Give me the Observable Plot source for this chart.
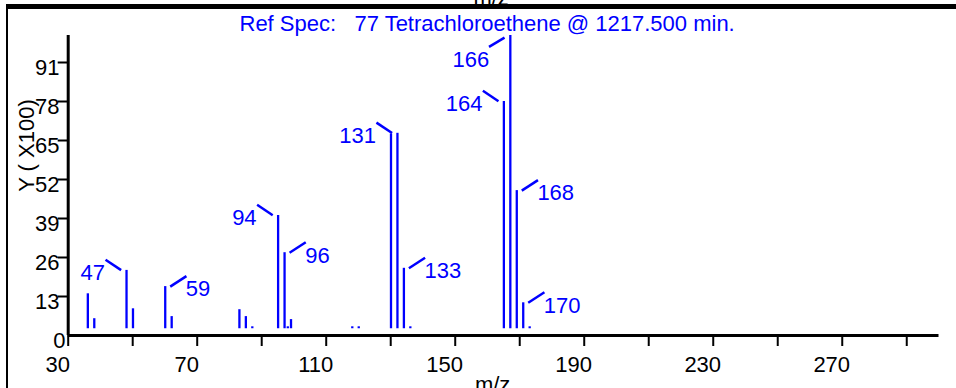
<!DOCTYPE html>
<html>
<head>
<meta charset="utf-8">
<script src="https://cdn.jsdelivr.net/npm/d3@7"></script>
<script src="https://cdn.jsdelivr.net/npm/@observablehq/plot@0.6"></script>
<style>
  html, body { margin: 0; padding: 0; background: #fff; overflow: hidden; }
  #wrap { position: relative; width: 956px; height: 388px; overflow: hidden; }
  #wrap svg { position: absolute; left: 0; top: 0; }
  .border-top { position: absolute; left: 6px; top: 4.3px; width: 950px; height: 4.6px; background: #000; }
  .border-left { position: absolute; left: 6px; top: 4px; width: 2px; height: 384px; background: #000; }
</style>
</head>
<body>
<div id="wrap"></div>
<script>
// ---- data ----
const mzValues = [35, 37, 47, 49, 59, 61, 82, 84, 86, 94, 96, 97, 98, 117, 119, 129, 131, 133, 135, 164, 166, 168, 170, 172];
const intensities = [13.9, 5.6, 21.7, 8.9, 16.3, 6.3, 8.6, 6.3, 2.9, 40.0, 27.6, 2.9, 5.3, 2.9, 2.9, 67.2, 67.4, 22.4, 2.9, 78.0, 100, 48.3, 10.9, 2.9];
const leftLabels = [47, 94, 131, 164];
const lowerLeftLabels = [166];
const rightLabels = [59, 96, 133, 168, 170];
const xTickValues = [30, 50, 70, 90, 110, 130, 150, 170, 190, 210, 230, 250, 270, 290];
const xLabelValues = [30, 70, 110, 150, 190, 230, 270];
const yTickValues = [13, 26, 39, 52, 65, 78, 91];
const yZeroTick = [0];
const titleText = "Ref Spec:   77 Tetrachloroethene @ 1217.500 min.";
const yTitle = "Y ( X100)";
const xTitle = "m/z";

// ---- layout / style ----
const W = 956, H = 388;
const ML = 67.7, MR = 17.5, MT = 35, MB = 53;
const XD = [30, 300], YD = [0, 100];
const KX = (W - ML - MR) / (XD[1] - XD[0]);
const KY = (H - MT - MB) / (YD[1] - YD[0]);
const BLUE = "#0000ff";
const BASE = 2.25;
const BAR_DX = 3.5;
const FS = 22;

const peaks = mzValues.map((m, i) => ({mz: m, value: intensities[i]}));
const valueOf = new Map(peaks.map(p => [p.mz, p.value]));
const rows = list => list.map(m => ({mz: m, value: valueOf.get(m)}));
const leftRows = rows(leftLabels);
const lowRows = rows(lowerLeftLabels);
const rightRows = rows(rightLabels);

const chart = Plot.plot({
  width: W,
  height: H,
  marginLeft: ML, marginRight: MR, marginTop: MT, marginBottom: MB,
  style: {fontFamily: "'Liberation Sans', Arial, sans-serif", fontSize: FS + "px", background: "transparent", color: "black"},
  x: {domain: XD},
  y: {domain: YD},
  marks: [
    // peaks
    Plot.ruleX(peaks, {x: "mz", y1: BASE, y2: "value", stroke: BLUE, strokeWidth: 2.3, dx: BAR_DX}),
    // leader lines
    Plot.link(leftRows, {
      x1: d => d.mz - 21 / KX, y1: d => d.value + 10.7 / KY,
      x2: d => d.mz - 5.4 / KX, y2: d => d.value + 0.3 / KY,
      stroke: BLUE, strokeWidth: 2.5, dx: BAR_DX
    }),
    Plot.link(lowRows, {
      x1: d => d.mz - 21.3 / KX, y1: d => d.value - 11.3 / KY,
      x2: d => d.mz - 5.8 / KX, y2: d => d.value - 2.2 / KY,
      stroke: BLUE, strokeWidth: 2.5, dx: BAR_DX
    }),
    Plot.link(rightRows, {
      x1: d => d.mz + 5 / KX, y1: d => d.value,
      x2: d => d.mz + 21.2 / KX, y2: d => d.value + 10.5 / KY,
      stroke: BLUE, strokeWidth: 2.5, dx: BAR_DX
    }),
    // peak labels
    Plot.text(leftRows, {x: "mz", y: "value", text: d => String(d.mz), textAnchor: "end", dx: BAR_DX - 21.5, dy: 2.8, fill: BLUE, fontSize: FS}),
    Plot.text(lowRows, {x: "mz", y: "value", text: d => String(d.mz), textAnchor: "end", dx: BAR_DX - 21.2, dy: 24.8, fill: BLUE, fontSize: FS}),
    Plot.text(rightRows, {x: "mz", y: "value", text: d => String(d.mz), textAnchor: "start", dx: BAR_DX + 20.6, dy: 2.8, fill: BLUE, fontSize: FS}),
    // axes lines
    Plot.ruleY([0], {stroke: "black", strokeWidth: 3}),
    Plot.ruleX([30], {stroke: "black", strokeWidth: 3}),
    // x axis ticks & labels
    Plot.axisX({ticks: xTickValues, tickSize: 11, strokeWidth: 2, fill: "none", label: null}),
    Plot.axisX({ticks: xLabelValues, tickSize: 0, stroke: "none", tickPadding: 21, dx: -10.5, fontSize: FS, label: null}),
    // y axis ticks & labels
    Plot.axisY({ticks: yTickValues, tickSize: 10, strokeWidth: 2, fill: "none", label: null}),
    Plot.axisY({ticks: yTickValues, tickSize: 10, stroke: "none", tickPadding: 0, dx: 1.3, dy: 5.8, fontSize: FS, label: null}),
    Plot.axisY({ticks: yZeroTick, tickSize: 10, stroke: "none", tickPadding: 0, dx: 7.3, dy: 5.8, fontSize: FS, label: null}),
    // titles
    Plot.text([titleText], {text: d => d, frameAnchor: "top-left", textAnchor: "start", lineAnchor: "middle", dx: 239 - ML, dy: -11.3, fill: BLUE, fontSize: FS}),
    Plot.text([yTitle], {text: d => d, frameAnchor: "left", rotate: -90, lineAnchor: "middle", textAnchor: "middle", dx: 26.5 - ML, dy: -40, fill: "black", fontSize: FS}),
    Plot.text([xTitle], {text: d => d, frameAnchor: "bottom", lineAnchor: "middle", textAnchor: "middle", dx: -11, dy: 49.4, fill: "black", fontSize: FS}),
    Plot.text([xTitle], {text: d => d, frameAnchor: "top", lineAnchor: "middle", textAnchor: "middle", dx: -12.5, dy: -37.5, fill: "black", fontSize: FS})
  ]
});

const wrap = document.getElementById("wrap");
wrap.appendChild(chart);
const bt = document.createElement("div"); bt.className = "border-top"; wrap.appendChild(bt);
const bl = document.createElement("div"); bl.className = "border-left"; wrap.appendChild(bl);
</script>
</body>
</html>
